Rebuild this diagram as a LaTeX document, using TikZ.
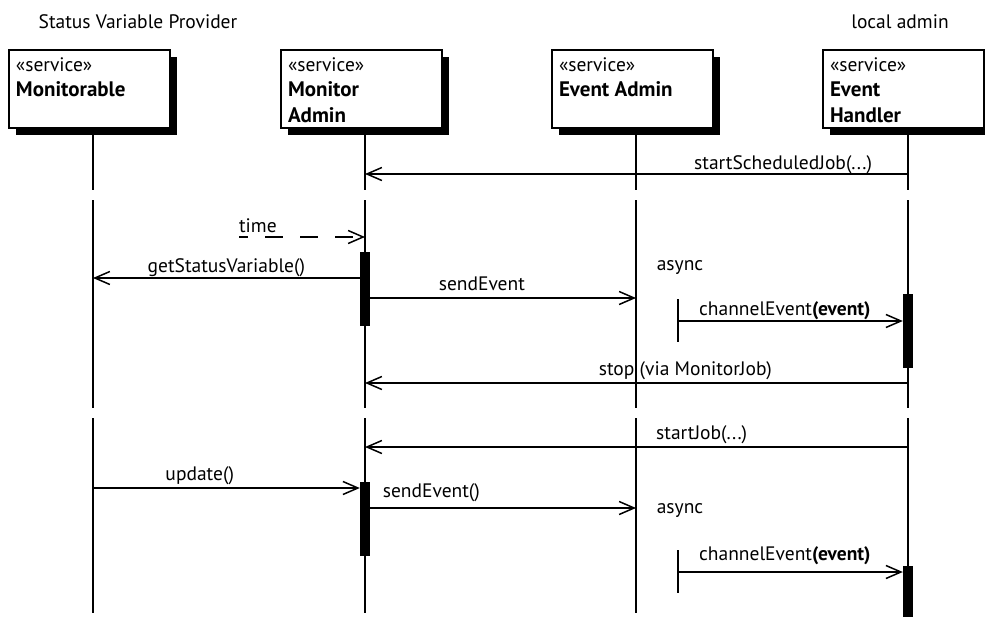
\documentclass[tikz,border=0pt]{standalone}
\usepackage{fontspec}
\setmainfont{PT Sans}
\usetikzlibrary{arrows.meta,shadows,calc}
\newcommand{\svc}[1]{\parbox[t][70pt][t]{147pt}{\rule{0pt}{17pt}«service»\\
  \fontsize{21}{25.5}\selectfont\textbf{#1}}}

\begin{document}
\begin{tikzpicture}[x=1pt,y=-1pt,
    font=\fontsize{19.5}{26}\selectfont,
    svcbox/.style={draw, fill=white, line width=2pt, anchor=north,
      minimum width=161pt, minimum height=78pt, inner xsep=7pt, inner ysep=4pt,
      drop shadow={shadow xshift=7pt, shadow yshift=-7pt, fill=black, opacity=1},
      path picture={\fill (path picture bounding box.south east) -- ++(-30pt,0pt)
        -- ++(30pt,27pt) -- cycle;}},
    life/.style={line width=1.8pt},
    msg/.style={line width=1.8pt, -{Straight Barb[length=15pt,width=13pt,line width=1.5pt]}},
    timed/.style={dash pattern=on 18pt off 17pt, dash phase=9pt},
    bar/.style={fill=black, minimum width=10pt, inner sep=0pt},
    lbl/.style={anchor=base, inner sep=0pt, yshift=6pt}]
    \useasboundingbox (0,0) rectangle (985,616);

    \node[anchor=base] (svp) at (138,28) {Status Variable Provider};
    \node[anchor=base] (loc) at (900,28) {local admin};

    \coordinate (lmon) at (93,0);
    \coordinate (lma) at (365,0);
    \coordinate (lea) at (636,0);
    \coordinate (leh) at (908,0);

    \foreach \l in {lmon,lma,lea,leh} {
      \draw[life] (\l |- 0,128) -- (\l |- 0,190) (\l |- 0,200) -- (\l |- 0,408)
        (\l |- 0,418) -- (\l |- 0,613);
    }

    \node[svcbox] (mon) at (89.5,49) {\svc{Monitorable}};
    \node[svcbox] (ma) at (361.5,49) {\svc{Monitor\\Admin}};
    \node[svcbox] (ea) at (632.5,49) {\svc{Event Admin}};
    \node[svcbox] (eh) at (903.5,49) {\svc{Event\\Handler}};

    \node[bar, minimum height=74pt] (ba1) at (365,289) {};
    \node[bar, minimum height=74pt] (bh1) at (908,331) {};
    \node[bar, minimum height=74pt] (ba2) at (365,519) {};
    \node[bar, minimum height=54pt] (bh2) at (908,593) {};

    \draw[msg] (leh |- 0,174) -- node[lbl, pos=.23, yshift=-1pt] {startScheduledJob(...)} (lma |- 0,174);

    \coordinate (tm) at (239,237);
    \draw[msg, timed] (tm) -- node[lbl, pos=.15, yshift=-1pt] {time} (lma |- tm);

    \draw[msg] (ba1.west |- 0,278) -- node[lbl, pos=.5] {getStatusVariable()} (lmon |- 0,278);
    \draw[msg] (ba1.east |- 0,298) -- node[lbl, pos=.42, yshift=2pt] {sendEvent} (lea |- 0,298);
    \node (as1) at (680,268) {async};
    \coordinate (c1) at (678,321);
    \draw[life] ($(c1)+(0,-22)$) -- ($(c1)+(0,21)$);
    \draw[msg] (c1) -- node[lbl, pos=.475] {channelEvent\textbf{(event)}} (bh1.west |- c1);

    \draw[msg] (leh |- 0,383) -- node[lbl, pos=.41, yshift=2pt] {stop (via MonitorJob)} (lma |- 0,383);
    \draw[msg] (leh |- 0,447) -- node[lbl, pos=.38, yshift=2pt] {startJob(...)} (lma |- 0,447);

    \draw[msg] (lmon |- 0,488) -- node[lbl, pos=.4, yshift=2pt] {update()} (ba2.west |- 0,488);
    \draw[msg] (ba2.east |- 0,508) -- node[lbl, pos=.23, yshift=5pt] {sendEvent()} (lea |- 0,508);
    \node (as2) at (680,510) {async};
    \coordinate (c2) at (678,572);
    \draw[life] ($(c2)+(0,-22)$) -- ($(c2)+(0,21)$);
    \draw[msg] (c2) -- node[lbl, pos=.475, yshift=6pt] {channelEvent\textbf{(event)}} (bh2.west |- c2);
\end{tikzpicture}
\end{document}
